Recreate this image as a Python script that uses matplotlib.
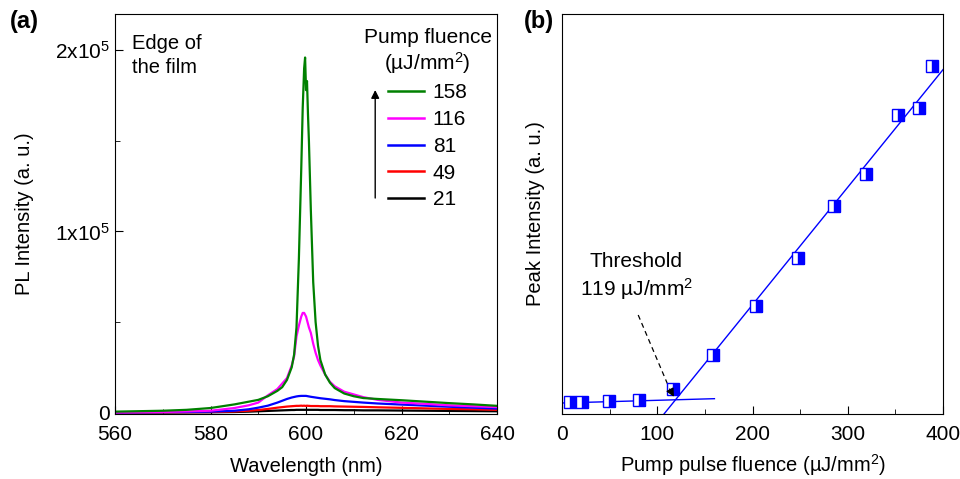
import numpy as np
import matplotlib
matplotlib.use("Agg")
import matplotlib.pyplot as plt
from matplotlib.lines import Line2D
from matplotlib.ticker import FixedLocator, FuncFormatter, MultipleLocator

plt.rcParams['font.family'] = ['Liberation Sans', 'DejaVu Sans']
plt.rcParams['mathtext.fontset'] = 'custom'
plt.rcParams['mathtext.rm'] = 'Liberation Sans'
plt.rcParams['mathtext.it'] = 'Liberation Sans:italic'
plt.rcParams['mathtext.bf'] = 'Liberation Sans:bold'

# ---------------- Data: panel (a) PL spectra (values in units of 1e3) ----------------
wavelength = [560, 570, 575, 580, 585, 588, 590, 592, 594, 595, 596, 597, 597.5, 598,
              598.5, 599, 599.3, 599.6, 599.8, 600, 600.2, 600.4, 600.6, 601, 601.5,
              602, 602.5, 603, 604, 605, 606, 608, 610, 612, 615, 620, 625, 630, 635, 640]

pl_158 = [0.5, 1.0, 1.5, 2.5, 4.5, 6.0, 7.0, 9.0, 12.0, 14.0, 18.0, 25.0, 32.0, 47.0,
          85.0, 135.0, 168.0, 190.0, 196.0, 178.0, 183.0, 165.0, 150.0, 112.0, 72.0,
          50.0, 37.0, 29.0, 21.0, 16.5, 13.5, 10.5, 9.0, 8.0, 7.5, 6.8, 6.0, 5.2, 4.5, 3.7]
pl_116 = [0.0, 0.3, 0.6, 1.0, 2.5, 4.0, 5.5, 9.5, 13.0, 16.0, 19.0, 26.0, 31.0, 42.0,
          48.0, 53.0, 55.0, 55.0, 54.0, 53.0, 51.0, 49.0, 47.0, 44.0, 38.0,
          33.0, 29.0, 26.0, 21.0, 17.0, 14.5, 11.5, 10.0, 8.5, 7.0, 5.5, 4.8, 4.0, 3.5, 3.0]
pl_81 = [0.0, 0.2, 0.3, 0.5, 1.0, 1.8, 2.7, 3.8, 5.5, 6.5, 7.5, 8.3, 8.6, 8.9,
         9.1, 9.2, 9.2, 9.2, 9.2, 9.2, 9.1, 9.0, 8.9, 8.7, 8.5,
         8.3, 8.1, 7.9, 7.6, 7.3, 6.9, 6.3, 5.9, 5.5, 5.0, 4.4, 3.8, 3.2, 2.7, 2.2]
pl_49 = [0.0, 0.1, 0.2, 0.3, 0.6, 1.0, 1.4, 2.0, 2.7, 3.0, 3.3, 3.5, 3.6, 3.7,
         3.7, 3.8, 3.7, 3.8, 3.7, 3.7, 3.8, 3.7, 3.7, 3.6, 3.6,
         3.6, 3.6, 3.5, 3.5, 3.5, 3.4, 3.3, 3.2, 3.1, 2.9, 2.6, 2.3, 2.0, 1.8, 1.5]
pl_21 = [0.0, 0.05, 0.1, 0.15, 0.3, 0.5, 0.7, 0.9, 1.1, 1.2, 1.3, 1.4, 1.4, 1.5,
         1.5, 1.5, 1.5, 1.5, 1.5, 1.5, 1.5, 1.5, 1.5, 1.5, 1.5,
         1.5, 1.5, 1.4, 1.4, 1.4, 1.4, 1.3, 1.3, 1.2, 1.2, 1.1, 1.0, 0.9, 0.8, 0.7]

series_labels = ['158', '116', '81', '49', '21']
series_colors = ['#008000', '#ff00ff', '#0000ff', '#ff0000', '#000000']
series_values = [pl_158, pl_116, pl_81, pl_49, pl_21]

# ---------------- Data: panel (b) peak intensity vs fluence ----------------
fluence = [8, 21, 49, 81, 116, 159, 204, 248, 286, 319, 353, 375, 388]
peak_intensity = [12.0, 12.0, 12.7, 13.7, 24.7, 59.0, 107.7, 156.0, 207.7, 239.7,
                  298.7, 306.3, 348.0]
low_fit = [0.027, 11.0]        # slope, intercept (below threshold)
low_fit_range = [0, 160]
high_fit = [1.176, -125.9]     # slope, intercept (above threshold)
high_fit_range = [100, 400]
threshold = 119

fig = plt.figure(figsize=(9.6, 4.79), dpi=100)
ax1 = fig.add_axes([0.1198, 0.1357, 0.398, 0.835])
ax2 = fig.add_axes([0.5854, 0.1357, 0.397, 0.835])

# ---- Panel (a)
wl = np.array(wavelength)
for lab, col, vals in list(zip(series_labels, series_colors, series_values))[::-1]:
    ax1.plot(wl, np.array(vals) * 1e3, color=col, lw=1.6)

ax1.set_xlim(560, 640)
ax1.set_ylim(-800, 2.2e5)
ax1.xaxis.set_major_locator(MultipleLocator(20))
ax1.xaxis.set_minor_locator(MultipleLocator(10))
ax1.yaxis.set_major_locator(FixedLocator([0, 1e5, 2e5]))
ax1.yaxis.set_minor_locator(FixedLocator([0.5e5, 1.5e5]))

def yfmt(v, pos):
    if abs(v) < 1:
        return '0'
    return '%dx10$^5$' % round(v / 1e5)

ax1.yaxis.set_major_formatter(FuncFormatter(yfmt))
ax1.tick_params(which='both', direction='in', top=False, right=False, labelsize=15)
ax1.tick_params(which='major', length=6)
ax1.tick_params(which='minor', length=3.5)
ax1.tick_params(axis='x', which='major', pad=8)
ax1.set_xlabel('Wavelength (nm)', fontsize=14.5, labelpad=9)
ax1.set_ylabel('PL Intensity (a. u.)', fontsize=14.5, labelpad=15)
ax1.text(0.045, 0.95, 'Edge of\nthe film', transform=ax1.transAxes, fontsize=14.5,
         ha='left', va='top', linespacing=1.3)

handles = [Line2D([], [], color=c, lw=1.8) for c in series_colors]
leg = ax1.legend(handles, series_labels, title='Pump fluence\n(µJ/mm$^2$)',
                 loc='upper right', bbox_to_anchor=(1.024, 1.002), frameon=False,
                 fontsize=15, title_fontsize=15, handlelength=1.75,
                 handletextpad=0.4, labelspacing=0.37, borderaxespad=0.3)
leg.get_title().set_multialignment('center')
leg.get_title().set_linespacing(1.15)
leg._legend_box.align = 'center'
ax1.annotate('', xy=(0.681, 0.81), xytext=(0.681, 0.54), xycoords='axes fraction',
             textcoords='axes fraction',
             arrowprops=dict(arrowstyle='-|>', color='black', lw=1.0,
                             mutation_scale=12, shrinkA=0, shrinkB=0))

fig.text(0.01, 0.955, '(a)', fontsize=17, fontweight='bold', ha='left', va='center')
fig.text(0.546, 0.955, '(b)', fontsize=17, fontweight='bold', ha='left', va='center')

# ---- Panel (b)
ax2.plot(fluence, peak_intensity, linestyle='none', marker='s', markersize=9,
         fillstyle='right', markerfacecolor='#0000ff', markerfacecoloralt='white',
         markeredgecolor='#0000ff', markeredgewidth=1.0, zorder=3)
xl = np.array(low_fit_range, dtype=float)
ax2.plot(xl, low_fit[0] * xl + low_fit[1], color='#0000ff', lw=1.0)
xh = np.array(high_fit_range, dtype=float)
ax2.plot(xh, high_fit[0] * xh + high_fit[1], color='#0000ff', lw=1.0)

ax2.set_xlim(0, 400)
ax2.set_ylim(0, 400)
ax2.xaxis.set_major_locator(MultipleLocator(100))
ax2.xaxis.set_minor_locator(MultipleLocator(50))
ax2.set_yticks([])
ax2.tick_params(which='both', direction='in', top=False, right=False, labelsize=15)
ax2.tick_params(which='major', length=6)
ax2.tick_params(which='minor', length=3.5)
ax2.tick_params(axis='x', which='major', pad=8)
ax2.set_xlabel('Pump pulse fluence (µJ/mm$^2$)', fontsize=14.5, labelpad=6)
ax2.set_ylabel('Peak Intensity (a. u.)', fontsize=14.5, labelpad=12)

thr_y = low_fit[0] * threshold + low_fit[1]
ax2.text(78, 137, 'Threshold\n%d µJ/mm$^2$' % threshold, fontsize=15, ha='center',
         va='center', linespacing=1.25)
ax2.plot([80, 113], [99, 25], color='black', lw=0.9, linestyle=(0, (4, 3)))
ax2.annotate('', xy=(threshold - 1.5, thr_y + 3), xytext=(113, 25),
             arrowprops=dict(arrowstyle='-|>', color='black', lw=0.9,
                             mutation_scale=12, shrinkA=0, shrinkB=0))

fig.savefig('out.png', dpi=100)
